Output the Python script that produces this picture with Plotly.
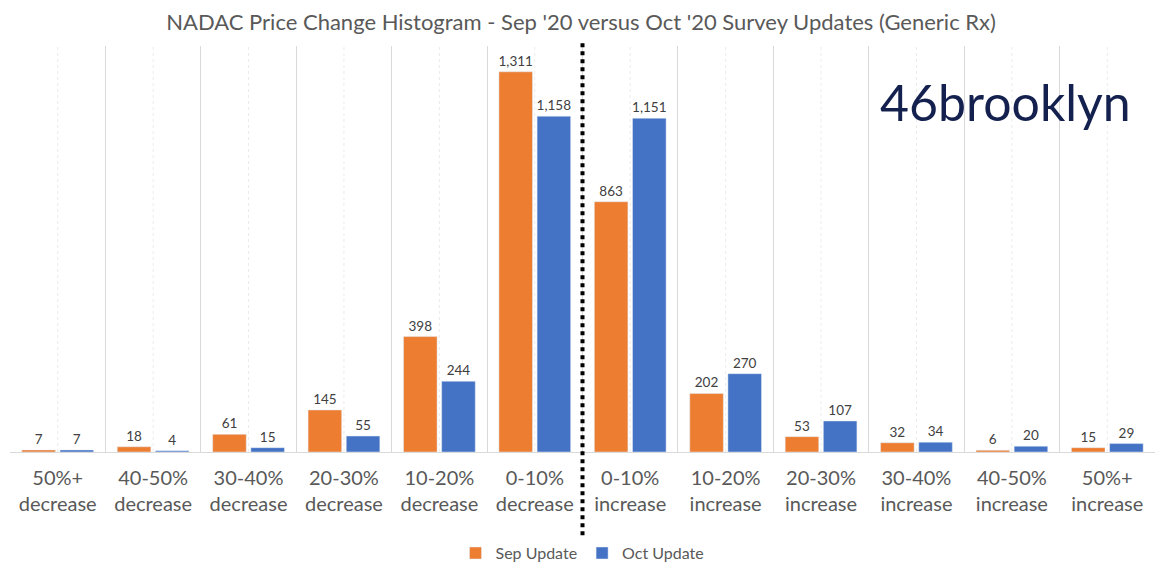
import plotly.graph_objects as go

categories = ["50%+<br>decrease", "40-50%<br>decrease", "30-40%<br>decrease", "20-30%<br>decrease",
              "10-20%<br>decrease", "0-10%<br>decrease", "0-10%<br>increase", "10-20%<br>increase",
              "20-30%<br>increase", "30-40%<br>increase", "40-50%<br>increase", "50%+<br>increase"]
sep_update = [7, 18, 61, 145, 398, 1311, 863, 202, 53, 32, 6, 15]
oct_update = [7, 4, 15, 55, 244, 1158, 1151, 270, 107, 34, 20, 29]

FONT = "Lato"
fig = go.Figure()
for name, vals, col in [("Sep Update", sep_update, "#ED7D31"), ("Oct Update", oct_update, "#4472C4")]:
    fig.add_trace(go.Bar(x=categories, y=vals, name=name, marker_color=col,
                         texttemplate="%{y:,}", textposition="outside", cliponaxis=False,
                         constraintext="none",
                         textfont=dict(size=13.5, color="#404040", family=FONT)))

shapes = []
for i in range(len(categories)):
    shapes.append(dict(type="line", xref="x", yref="paper", x0=i, x1=i, y0=0, y1=1,
                       line=dict(color="#EBEBEB", width=1, dash="dot"), layer="below"))
shapes.append(dict(type="line", xref="x", yref="paper", x0=5.5, x1=5.5, y0=-0.205, y1=1.015,
                   line=dict(color="black", width=4, dash="dot")))

fig.update_layout(
    width=1172, height=575,
    margin=dict(l=2, r=25, t=38, b=131, autoexpand=False),
    paper_bgcolor="white", plot_bgcolor="white",
    font=dict(family=FONT, color="#595959"),
    title=dict(text="NADAC Price Change Histogram - Sep '20 versus Oct '20 Survey Updates (Generic Rx)",
               x=0.489, xanchor="center", y=0.976, yanchor="middle",
               font=dict(size=22, color="#595959", family=FONT)),
    barmode="group", bargap=0.2, bargroupgap=0.12,
    showlegend=True,
    legend=dict(orientation="h", x=0.5, xanchor="center", yref="container", y=0.052, yanchor="middle",
                font=dict(size=16, color="#595959", family=FONT)),
    shapes=shapes,
    annotations=[dict(text="46brooklyn", xref="paper", yref="paper", x=0.869, y=0.862,
                      xanchor="center", yanchor="middle", showarrow=False,
                      font=dict(size=50, color="#14214F", family=FONT))],
)
fig.update_xaxes(tickson="boundaries", showgrid=True, gridcolor="#D9D9D9", gridwidth=1,
                 showline=True, linecolor="#D9D9D9", ticks="", automargin=False,
                 ticklabelstandoff=8,
                 tickfont=dict(size=20, color="#595959"), range=[-0.5, 11.5])
fig.update_yaxes(range=[0, 1400], showgrid=False, showticklabels=False, zeroline=False, automargin=False)

fig.write_html("out.html")
